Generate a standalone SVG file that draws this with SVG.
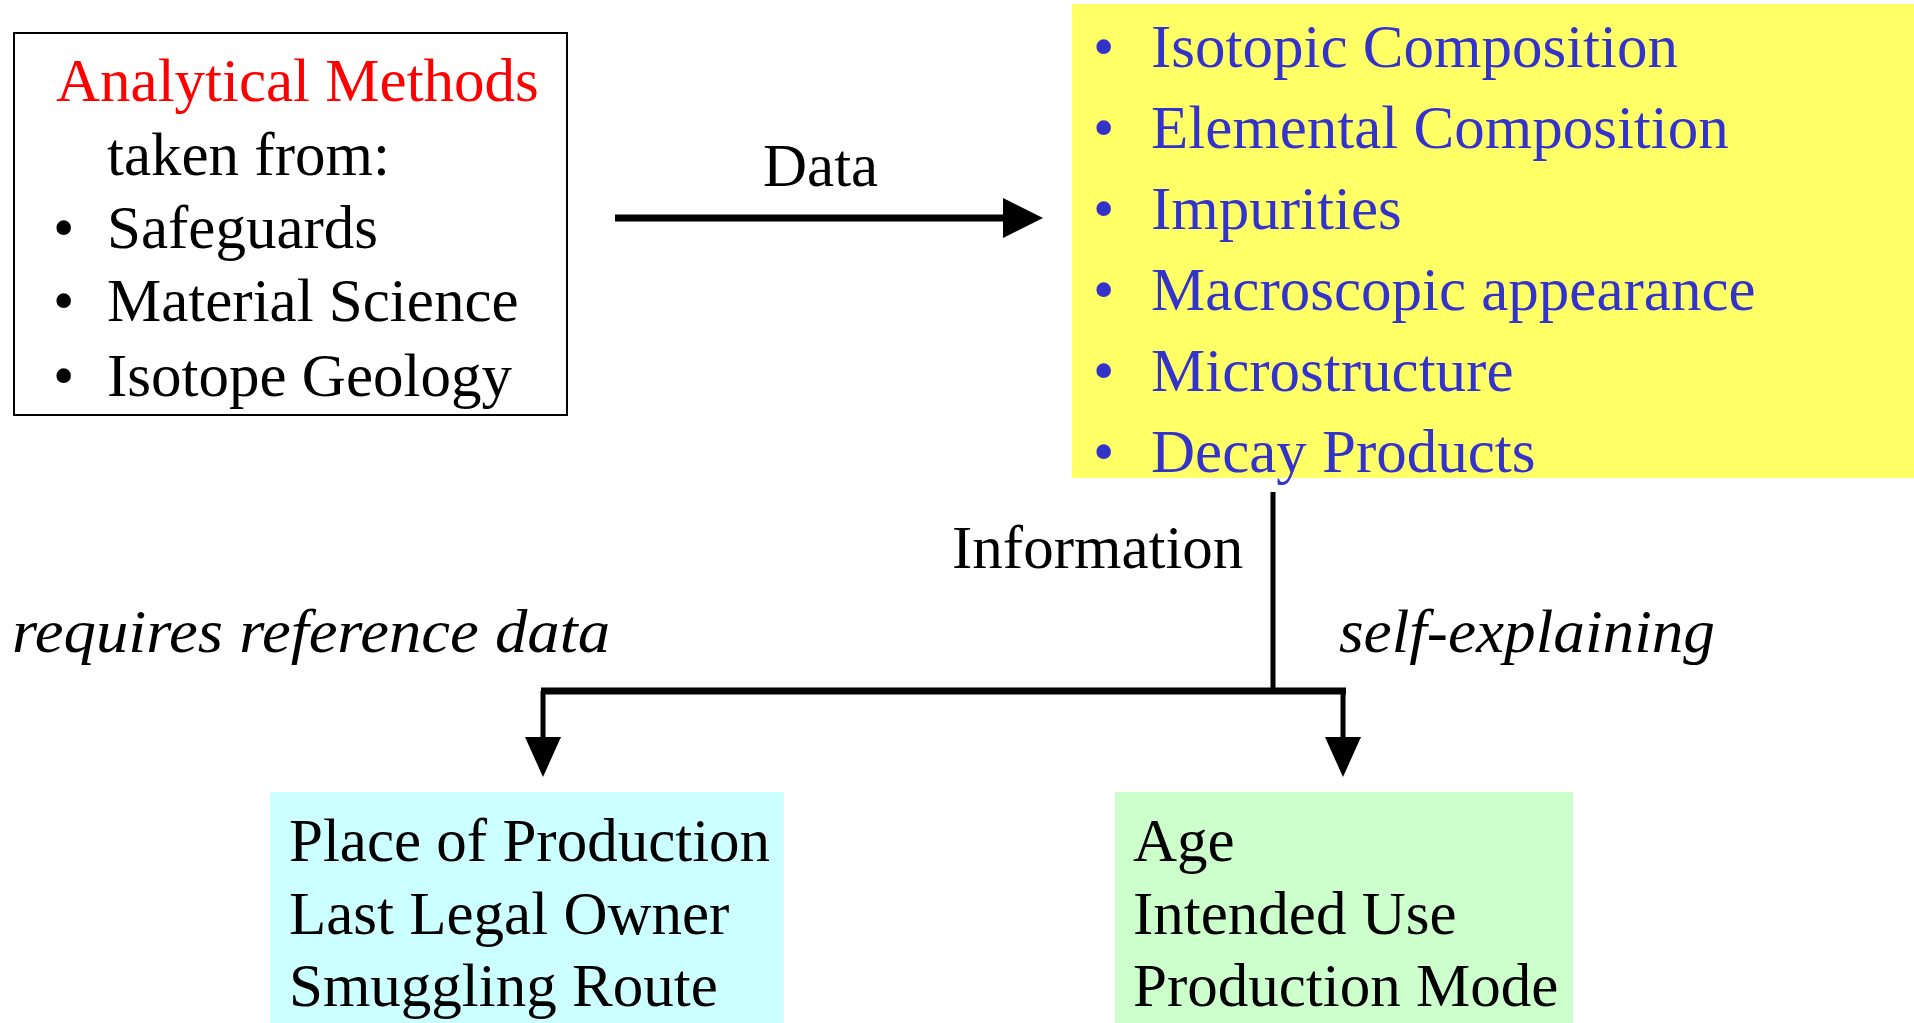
<svg xmlns="http://www.w3.org/2000/svg" width="1914" height="1023" viewBox="0 0 1914 1023">
<style>
text{font-family:"Liberation Serif","Times New Roman",serif;font-size:61px;fill:#000}
.red{fill:#ff0000}
.blue{fill:#3333cc}
.it{font-style:italic;font-size:62px}
.ln{fill:none;stroke:#000}
</style>
<defs>
<marker id="ah" viewBox="0 0 40 40" markerWidth="40" markerHeight="40" refX="0" refY="20" orient="auto" markerUnits="userSpaceOnUse">
<path d="M0,0 L40,20 L0,40 Z" fill="#000"/>
</marker>
<marker id="ahn" viewBox="0 0 40 40" markerWidth="40" markerHeight="40" refX="0" refY="20" orient="auto" markerUnits="userSpaceOnUse">
<path d="M0,2 L40,20 L0,38 Z" fill="#000"/>
</marker>
</defs>
<rect width="1914" height="1023" fill="#fff"/>
<g id="methods">
<rect x="14" y="33" width="553" height="382" fill="#fff" stroke="#000" stroke-width="2"/>
<text class="red" x="56" y="101">Analytical Methods</text>
<text x="107" y="175">taken from:</text>
<text x="53" y="248">•</text><text x="107" y="248">Safeguards</text>
<text x="53" y="321">•</text><text x="107" y="321">Material Science</text>
<text x="53" y="396">•</text><text x="107" y="396">Isotope Geology</text>
</g>
<g id="data-list">
<rect x="1072" y="4" width="842" height="474" fill="#ffff66"/>
<text class="blue" x="1093" y="67">•</text><text class="blue" x="1151" y="67">Isotopic Composition</text>
<text class="blue" x="1093" y="148">•</text><text class="blue" x="1151" y="148">Elemental Composition</text>
<text class="blue" x="1093" y="229">•</text><text class="blue" x="1151" y="229">Impurities</text>
<text class="blue" x="1093" y="310">•</text><text class="blue" x="1151" y="310">Macroscopic appearance</text>
<text class="blue" x="1093" y="391">•</text><text class="blue" x="1151" y="391">Microstructure</text>
<text class="blue" x="1093" y="472">•</text><text class="blue" x="1151" y="472">Decay Products</text>
</g>
<g id="reference-info">
<rect x="270" y="792" width="514" height="231" fill="#ccffff"/>
<text x="289" y="861">Place of Production</text>
<text x="289" y="934">Last Legal Owner</text>
<text x="289" y="1006">Smuggling Route</text>
</g>
<g id="self-info">
<rect x="1115" y="792" width="458" height="231" fill="#ccffcc"/>
<text x="1133" y="861">Age</text>
<text x="1133" y="934">Intended Use</text>
<text x="1133" y="1006">Production Mode</text>
</g>
<g id="connectors">
<line class="ln" x1="615" y1="218" x2="1003" y2="218" stroke-width="7" marker-end="url(#ah)"/>
<line class="ln" x1="1273" y1="492" x2="1273" y2="691" stroke-width="5"/>
<line class="ln" x1="541" y1="691" x2="1346" y2="691" stroke-width="7"/>
<line class="ln" x1="543" y1="691" x2="543" y2="737" stroke-width="5" marker-end="url(#ahn)"/>
<line class="ln" x1="1343" y1="691" x2="1343" y2="737" stroke-width="5" marker-end="url(#ahn)"/>
</g>
<g id="labels">
<text x="763" y="186">Data</text>
<text x="952" y="568">Information</text>
<text class="it" x="12" y="652" textLength="598" lengthAdjust="spacingAndGlyphs">requires reference data</text>
<text class="it" x="1339" y="652" textLength="376" lengthAdjust="spacingAndGlyphs">self-explaining</text>
</g>
</svg>
